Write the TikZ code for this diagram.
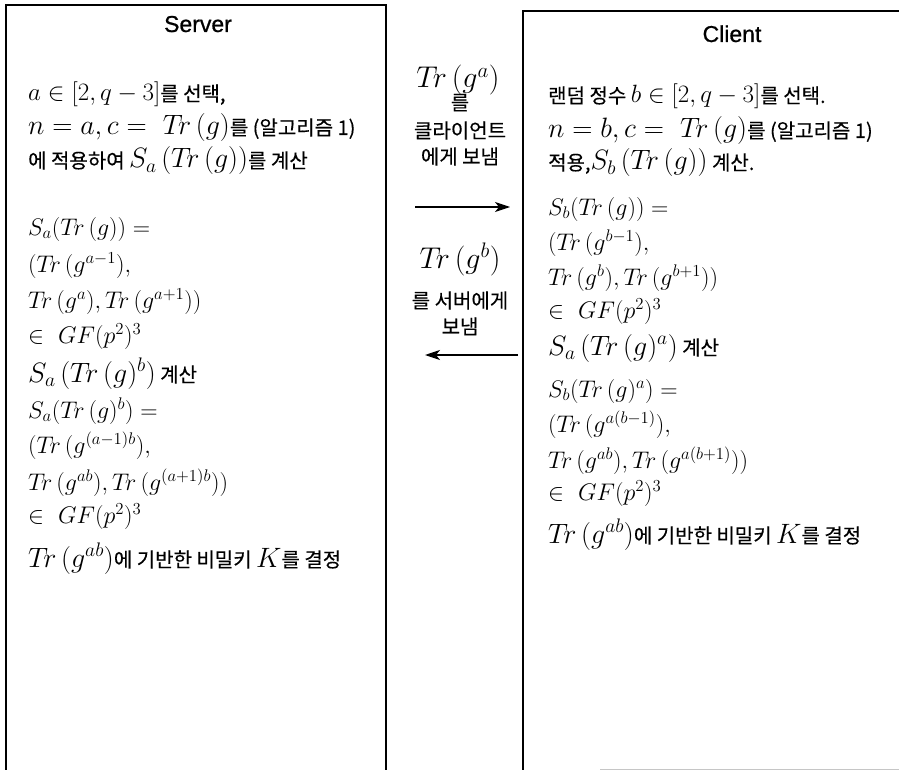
\RequirePackage{fix-cm}
\documentclass[tikz,border=0pt]{standalone}
\usepackage{fontspec}
\usetikzlibrary{arrows.meta}
\newfontfamily\krfont[FakeBold=0.3]{Noto Sans CJK KR}
\newfontfamily\hdfont[FakeBold=0.8]{Liberation Sans}
\newcommand{\kor}[1]{{\krfont\fontsize{20}{24}\selectfont #1}}
\newcommand{\lrg}[1]{{\fontsize{28}{32}\selectfont$#1$}}
\newcommand{\mdm}[1]{{\fontsize{25}{30}\selectfont$#1$}}
\newcommand{\Tr}{T\!r\,}
\tikzset{
  txt/.style={anchor=base west, inner sep=0pt, font=\fontsize{24}{28}\selectfont},
  mid/.style={anchor=base, inner sep=0pt, font=\fontsize{24}{28}\selectfont},
  title/.style={anchor=base, inner sep=0pt, font=\hdfont\fontsize{23}{27}\selectfont},
  box/.style={line width=1.6pt},
  msg/.style={line width=1.1pt, -{Stealth[length=15pt,width=10pt,inset=4pt]}}
}
\begin{document}
\begin{tikzpicture}[x=1pt,y=-1pt]
  \useasboundingbox (0,0) rectangle (899,770);
  % the two parties
  \draw[box] (6,770) -- (6,5) -- (386,5) -- (386,770);
  \draw[box] (523,770) -- (523,11) -- (899,11);
  \draw[gray!45, line width=0.8pt] (600,769) -- (899,769);
  % server side
  \node[title] (s0) at (198,32) {Server};
  \node[txt] (s1) at (28,101) {\mdm{a\in [2,q-3]}\kor{를 선택,}};
  \node[txt] (s2) at (28,135) {\lrg{n=a, c=\ \Tr(g)}\kor{를 (알고리즘 1)}};
  \node[txt] (s3) at (28,168) {\kor{에 적용하여 }\lrg{S_a\,(\Tr(g))}\kor{를 계산}};
  \node[txt] (s4) at (28,235) {$S_a(\Tr(g))=$};
  \node[txt] (s5) at (28,272) {$(\Tr(g^{a-1}),$};
  \node[txt] (s6) at (28,308) {$\Tr(g^a), \Tr(g^{a+1}))$};
  \node[txt] (s7) at (28,343) {$\in\ GF(p^2)^3$};
  \node[txt] (s8) at (28,382) {\lrg{S_a\,(\Tr(g)^b)}\kor{\ 계산}};
  \node[txt] (s9) at (28,418) {$S_a(\Tr(g)^b)=$};
  \node[txt] (s10) at (28,453) {$(\Tr(g^{(a-1)b}),$};
  \node[txt] (s11) at (28,490) {$\Tr(g^{ab}), \Tr(g^{(a+1)b}))$};
  \node[txt] (s12) at (28,523) {$\in\ GF(p^2)^3$};
  \node[txt] (s13) at (28,567) {\lrg{\Tr(g^{ab})}\kor{에 기반한 비밀키 }\lrg{K}\kor{를 결정}};
  % client side
  \node[title] (c0) at (732,42) {Client};
  \node[txt] (c1) at (548,103) {\kor{랜덤 정수 }\mdm{b\in [2,q-3]}\kor{를 선택.}};
  \node[txt] (c2) at (548,138) {\lrg{n=b, c=\ \Tr(g)}\kor{를 (알고리즘 1)}};
  \node[txt] (c3) at (548,170) {\kor{적용,}\lrg{S_b\,(\Tr(g))}\kor{\ 계산.}};
  \node[txt] (c4) at (548,215) {$S_b(\Tr(g))=$};
  \node[txt] (c5) at (548,250) {$(\Tr(g^{b-1}),$};
  \node[txt] (c6) at (548,285) {$\Tr(g^b), \Tr(g^{b+1}))$};
  \node[txt] (c7) at (548,318) {$\in\ GF(p^2)^3$};
  \node[txt] (c8) at (548,355) {\lrg{S_a\,(\Tr(g)^a)}\kor{\ 계산}};
  \node[txt] (c9) at (548,397) {$S_b(\Tr(g)^a)=$};
  \node[txt] (c10) at (548,432) {$(\Tr(g^{a(b-1)}),$};
  \node[txt] (c11) at (548,468) {$\Tr(g^{ab}), \Tr(g^{a(b+1)}))$};
  \node[txt] (c12) at (548,500) {$\in\ GF(p^2)^3$};
  \node[txt] (c13) at (548,543) {\lrg{\Tr(g^{ab})}\kor{에 기반한 비밀키 }\lrg{K}\kor{를 결정}};
  % messages
  \node[mid] (m1) at (458,88) {{\fontsize{30}{34}\selectfont$\Tr(g^a)$}};
  \node[mid] (m2) at (460,110) {\kor{를}};
  \node[mid] (m3) at (460,138) {\kor{클라이언트}};
  \node[mid] (m4) at (460,164) {\kor{에게 보냄}};
  \node[mid] (m5) at (460,268) {{\fontsize{30}{34}\selectfont$\Tr(g^b)$}};
  \node[mid] (m6) at (460,308) {\kor{를 서버에게}};
  \node[mid] (m7) at (460,334) {\kor{보냄}};
  \coordinate (a1) at (415,207);
  \coordinate (a2) at (510,207);
  \coordinate (b1) at (518,355);
  \coordinate (b2) at (425,355);
  \draw[msg] (a1) -- (a2);
  \draw[msg] (b1) -- (b2);
\end{tikzpicture}
\end{document}
